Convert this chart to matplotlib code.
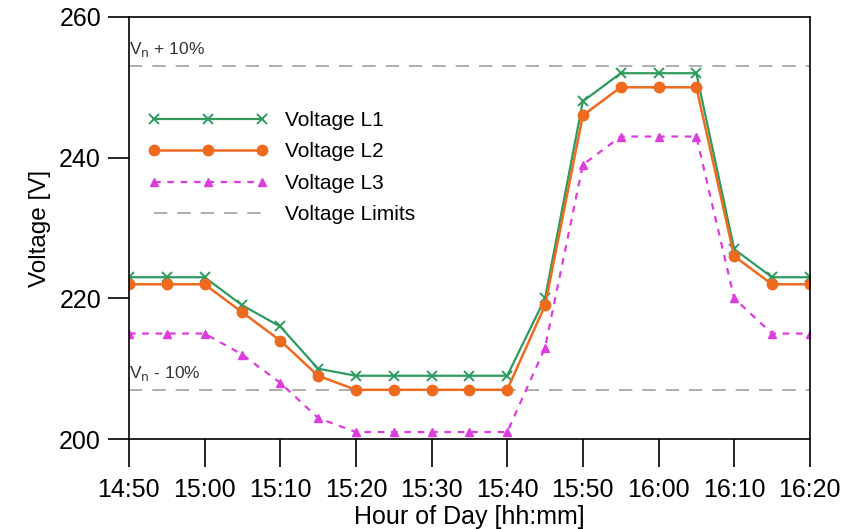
import numpy as np
import matplotlib.pyplot as plt

plt.rcParams['font.family'] = ['Liberation Sans', 'DejaVu Sans']

times = ["14:50", "14:55", "15:00", "15:05", "15:10", "15:15", "15:20", "15:25",
         "15:30", "15:35", "15:40", "15:45", "15:50", "15:55", "16:00", "16:05",
         "16:10", "16:15", "16:20"]
v_l1 = [223, 223, 223, 219, 216, 210, 209, 209, 209, 209, 209, 220, 248, 252, 252, 252, 227, 223, 223]
v_l2 = [222, 222, 222, 218, 214, 209, 207, 207, 207, 207, 207, 219, 246, 250, 250, 250, 226, 222, 222]
v_l3 = [215, 215, 215, 212, 208, 203, 201, 201, 201, 201, 201, 213, 239, 243, 243, 243, 220, 215, 215]
v_upper = 253
v_lower = 207
tick_labels = times[::2]

minutes = np.array([int(t[:2]) * 60 + int(t[3:]) for t in times])

fig = plt.figure(figsize=(8.48, 5.29), dpi=100)
ax = fig.add_axes([0.152, 0.170, 0.803, 0.798])

ax.axhline(v_upper, color='#a0a0a0', lw=1.2, ls=(0, (8, 6)), label='Voltage Limits')
ax.axhline(v_lower, color='#a0a0a0', lw=1.2, ls=(0, (8, 6)))

ax.plot(minutes, v_l1, color='#2e9a5e', lw=1.6, marker='x', ms=7, mew=1.4, label='Voltage L1')
ax.plot(minutes, v_l2, color='#ee6a1f', lw=1.8, marker='o', ms=7.5, label='Voltage L2')
ax.plot(minutes, v_l3, color='#dd3ddd', lw=1.6, ls=(0, (3, 3)), marker='^', ms=6, label='Voltage L3')

ax.text(minutes[0] + 0.05, v_upper + 1.7, r'V$_\mathrm{n}$ + 10%', fontsize=12.5, color='#333333')
ax.text(minutes[0] + 0.05, v_lower + 1.7, r'V$_\mathrm{n}$ - 10%', fontsize=12.5, color='#333333')

ax.set_xlim(minutes[0], minutes[-1])
ax.set_ylim(200, 260)
ax.set_xticks(minutes[::2])
ax.set_xticklabels(tick_labels)
ax.set_yticks([200, 220, 240, 260])
ax.tick_params(axis='x', direction='out', length=20, width=1.2, labelsize=18, pad=8)
ax.tick_params(axis='y', direction='out', length=15, width=1.2, labelsize=18, pad=5)
for s in ax.spines.values():
    s.set_linewidth(1.2)

ax.set_xlabel('Hour of Day [hh:mm]', fontsize=18, labelpad=2)
ax.set_ylabel('Voltage [V]', fontsize=17.5, labelpad=6)

h, l = ax.get_legend_handles_labels()
order = [1, 2, 3, 0]
ax.legend([h[i] for i in order], [l[i] for i in order], loc='upper left',
          bbox_to_anchor=(0.0, 0.822), frameon=False, fontsize=15,
          handlelength=5.8, numpoints=3, labelspacing=0.6, handletextpad=0.8)

fig.savefig('out.png', dpi=100)
